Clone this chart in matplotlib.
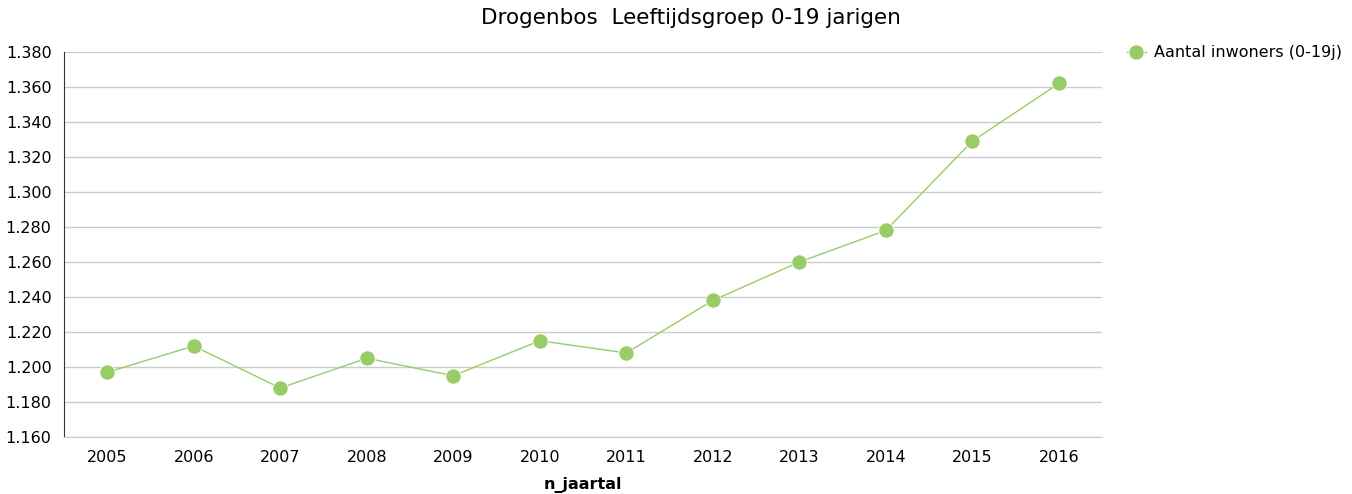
import matplotlib
matplotlib.use("Agg")
from matplotlib import pyplot as plt
from matplotlib.ticker import FuncFormatter

jaren = ["2005", "2006", "2007", "2008", "2009", "2010",
         "2011", "2012", "2013", "2014", "2015", "2016"]
inwoners = [1197, 1212, 1188, 1205, 1195, 1215,
            1208, 1238, 1260, 1278, 1329, 1362]

groen = "#99cc66"

plt.rcParams['font.family'] = ['DejaVu Sans']

fig = plt.figure(figsize=(13.52, 4.94), dpi=100)
ax = fig.add_axes([64 / 1352, 1 - 437 / 494, 1038 / 1352, 385 / 494])

x = range(len(jaren))
ax.plot(x, inwoners, color=groen, linewidth=1, marker='o', markersize=11,
        markeredgecolor='white', markeredgewidth=0.6, label='Aantal inwoners (0-19j)')

ax.set_xlim(-0.5, len(jaren) - 0.5)
ax.set_ylim(1160, 1380)
ax.set_yticks(range(1160, 1381, 20))
ax.yaxis.set_major_formatter(FuncFormatter(lambda v, p: f"{v / 1000:.3f}"))
ax.set_xticks(list(x))
ax.set_xticklabels(jaren)

ax.grid(axis='y', color='#cccccc', linewidth=1)
ax.set_axisbelow(True)
for s in ['top', 'right']:
    ax.spines[s].set_visible(False)
ax.spines['left'].set_color('#333333')
ax.spines['bottom'].set_color('#cccccc')
ax.tick_params(axis='both', length=0, labelsize=11.5, colors='black', pad=9)

ax.set_xlabel('n_jaartal', fontsize=11.5, fontweight='bold', labelpad=9)
# titel staat gecentreerd over grafiek + legende
fig.text(691 / 1352, 1 - 18 / 494, 'Drogenbos  Leeftijdsgroep 0-19 jarigen',
         fontsize=15.5, ha='center', va='center')

ax.legend(loc='upper left', bbox_to_anchor=(1.01, 1.055), frameon=False,
          fontsize=11.5, handlelength=1.2, handletextpad=0.5)

fig.savefig('out.png', dpi=100)
